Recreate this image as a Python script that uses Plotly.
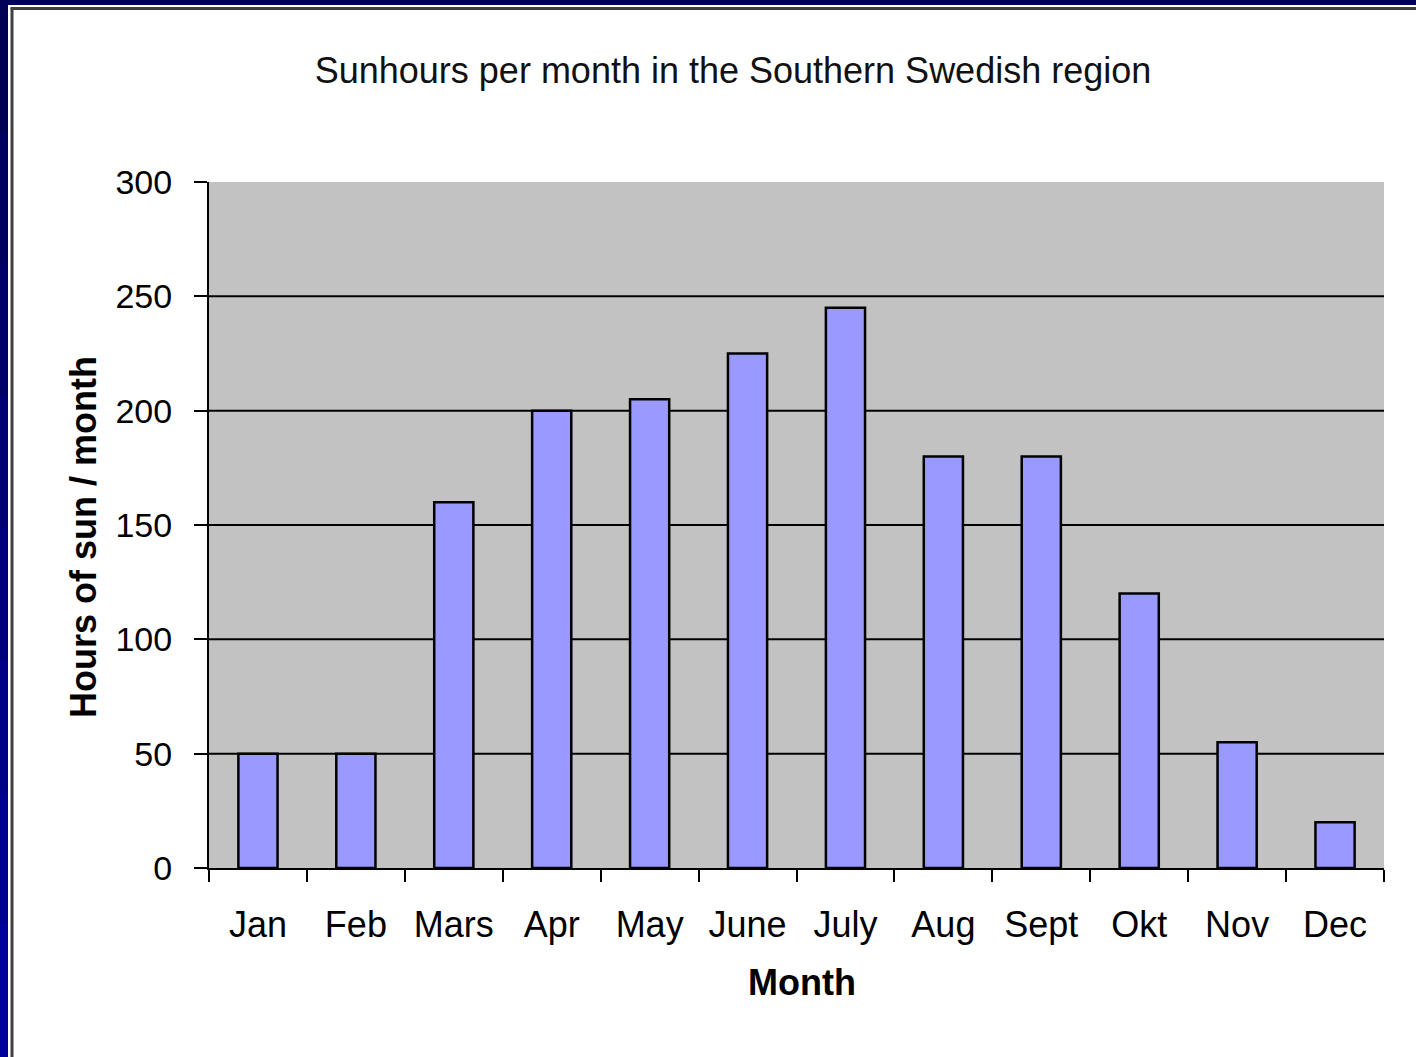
import plotly.graph_objects as go

months = ["Jan", "Feb", "Mars", "Apr", "May", "June", "July", "Aug", "Sept", "Okt", "Nov", "Dec"]
sun_hours = [50, 50, 160, 200, 205, 225, 245, 180, 180, 120, 55, 20]
y_ticks = [0, 50, 100, 150, 200, 250, 300]
grid_values = [50, 100, 150, 200, 250]

W, H = 1416, 1057
L, R, T, B = 209, 1384, 182, 868
pw, ph = R - L, B - T

def px_x(x):
    return (x - L) / pw

def px_y(y):
    return (B - y) / ph

fig = go.Figure()
fig.add_trace(go.Bar(
    x=months, y=sun_hours,
    marker=dict(color="#9999ff", line=dict(color="black", width=2.5)),
    width=0.4,
))

shapes = []
for g in grid_values:
    shapes.append(dict(type="line", xref="paper", yref="y", x0=0, x1=1, y0=g, y1=g,
                       line=dict(color="black", width=2), layer="below"))

# outer frame: navy bands and gray inner line
navy_steps = ["#000055", "#00005e", "#000068", "#000072", "#00007c", "#000086", "#000090", "#00009a"]
n = len(navy_steps)
for i, c in enumerate(navy_steps):
    y0 = H * i / n
    y1 = H * (i + 1) / n + 1
    shapes.append(dict(type="rect", xref="paper", yref="paper",
                       x0=px_x(0), x1=px_x(8), y0=px_y(y1), y1=px_y(y0),
                       fillcolor=c, line=dict(width=0), layer="above"))
shapes.append(dict(type="rect", xref="paper", yref="paper",
                   x0=px_x(0), x1=px_x(W), y0=px_y(5), y1=px_y(0),
                   fillcolor="#000055", line=dict(width=0), layer="above"))
shapes.append(dict(type="line", xref="paper", yref="paper",
                   x0=px_x(12), x1=px_x(12), y0=px_y(H), y1=px_y(8),
                   line=dict(color="#404040", width=3), layer="above"))
shapes.append(dict(type="line", xref="paper", yref="paper",
                   x0=px_x(10.5), x1=px_x(W), y0=px_y(8.5), y1=px_y(8.5),
                   line=dict(color="#404040", width=3), layer="above"))

font_family = "Liberation Sans, Arial, sans-serif"

fig.update_layout(
    width=W, height=H,
    margin=dict(l=L, r=W - R, t=T, b=H - B, autoexpand=False),
    paper_bgcolor="white",
    plot_bgcolor="#c2c2c2",
    showlegend=False,
    bargap=0.6,
    font=dict(family=font_family, color="black"),
    title=dict(text="Sunhours per month in the Southern Swedish region",
               x=733 / W, xanchor="center", xref="container",
               y=1 - 70 / H, yanchor="middle", yref="container",
               font=dict(size=36, family=font_family, color="#111111")),
    shapes=shapes,
    annotations=[
        dict(text="<b>Month</b>", xref="paper", yref="paper", x=px_x(802), y=px_y(983),
             xanchor="center", yanchor="middle", showarrow=False,
             font=dict(size=36, family=font_family, color="black")),
        dict(text="<b>Hours of sun / month</b>", xref="paper", yref="paper", x=px_x(83), y=px_y(537),
             xanchor="center", yanchor="middle", showarrow=False, textangle=-90,
             font=dict(size=36, family=font_family, color="black")),
    ],
)

fig.update_xaxes(
    type="category", tickson="boundaries", ticks="outside", ticklen=12, tickwidth=2,
    tickcolor="black", showline=True, linecolor="black", linewidth=2,
    showgrid=False, tickfont=dict(size=36, family=font_family, color="black"),
    ticklabelstandoff=24,
)
fig.update_yaxes(
    range=[0, 300], tickvals=y_ticks, ticks="outside", ticklen=13, tickwidth=2,
    tickcolor="black", showline=True, linecolor="black", linewidth=2,
    showgrid=False, zeroline=False, tickfont=dict(size=34, family=font_family, color="black"),
    ticklabelstandoff=15,
)

fig.write_html("out.html", config={"displayModeBar": False},
               post_script="document.body.style.margin='0px';")
